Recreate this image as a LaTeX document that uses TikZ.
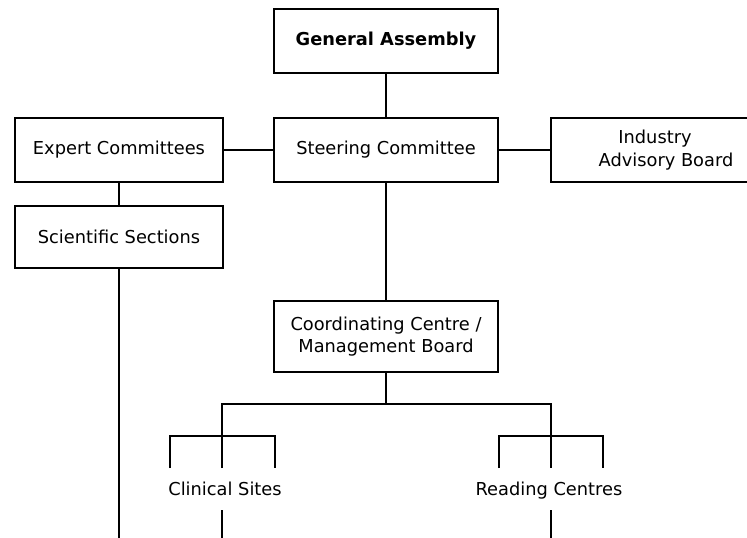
\documentclass[tikz,border=0pt]{standalone}
\usepackage{fontspec}
\setmainfont{DejaVu Sans}
\begin{document}
\begin{tikzpicture}[x=1pt,y=-1pt,
  box/.style={draw, line width=2.2pt, inner sep=0pt, align=center,
    font=\fontsize{17.8}{22.5}\selectfont},
  lbl/.style={inner sep=0pt, anchor=base, font=\fontsize{17.8}{22.5}\selectfont},
  conn/.style={line width=2.2pt},
  subbar/.style={line width=2.7pt}]
\useasboundingbox (0,0) rectangle (747,538);
% boxes
\node[box, minimum width=224pt, minimum height=64pt] (ga) at (386,41) {\textbf{General Assembly}};
\node[box, minimum width=224pt, minimum height=64pt] (sc) at (386,150) {Steering Committee};
\node[box, minimum width=208pt, minimum height=64pt] (ec) at (119,150) {Expert Committees};
\node[box, minimum width=230pt, minimum height=64pt] (iab) at (666,150) {Industry\hspace*{22pt}\\Advisory Board};
\node[box, minimum width=208pt, minimum height=62pt] (ss) at (119,237) {Scientific Sections};
\node[box, minimum width=224pt, minimum height=71pt] (cc) at (386,336.5) {Coordinating Centre /\\Management Board};
\node[lbl] (cs) at (225,495) {Clinical Sites};
\node[lbl] (rc) at (549,495) {Reading Centres};
% coordinates
\coordinate (busL) at (222,404);
\coordinate (busR) at (551,404);
\coordinate (busM) at (cc.south |- busL);
\coordinate (csTop) at (222,468);
\coordinate (rcTop) at (551,468);
\coordinate (cs1) at (170,468);
\coordinate (cs1t) at (170,436);
\coordinate (cs3) at (275,468);
\coordinate (cs3t) at (275,436);
\coordinate (rc1) at (499,468);
\coordinate (rc1t) at (499,436);
\coordinate (rc3) at (603,468);
\coordinate (rc3t) at (603,436);
\coordinate (csBot) at (222,510);
\coordinate (rcBot) at (551,510);
\coordinate (csEnd) at (222,545);
\coordinate (rcEnd) at (551,545);
\coordinate (ssEnd) at (ss.south |- csEnd);
% connectors
\draw[conn] (ga.south) -- (sc.north);
\draw[conn] (ec.east) -- (sc.west);
\draw[conn] (sc.east) -- (iab.west);
\draw[conn] (ec.south) -- (ss.north);
\draw[conn] (ss.south) -- (ssEnd);
\draw[conn] (sc.south) -- (cc.north);
\draw[conn] (cc.south) -- (busM);
\draw[conn] (csTop) -- (busL) -- (busR) -- (rcTop);
\draw[subbar] (cs1) -- (cs1t) -- (cs3t) -- (cs3);
\draw[subbar] (rc1) -- (rc1t) -- (rc3t) -- (rc3);
\draw[conn] (csBot) -- (csEnd);
\draw[conn] (rcBot) -- (rcEnd);
\end{tikzpicture}
\end{document}
